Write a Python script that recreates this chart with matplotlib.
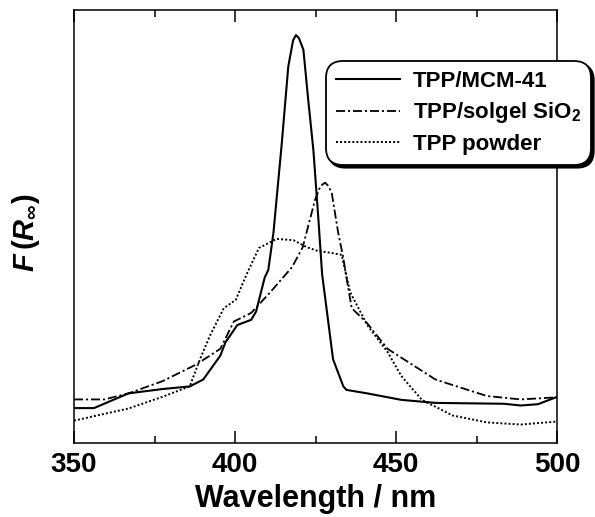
import numpy as np
import matplotlib
matplotlib.use('Agg')
import matplotlib.pyplot as plt
from matplotlib.ticker import MultipleLocator, NullLocator

plt.rcParams['font.family'] = ['Liberation Sans', 'DejaVu Sans']
plt.rcParams['font.weight'] = 'bold'
plt.rcParams['mathtext.fontset'] = 'custom'
plt.rcParams['mathtext.rm'] = 'Liberation Sans:bold'
plt.rcParams['mathtext.bf'] = 'Liberation Sans:bold'
plt.rcParams['mathtext.it'] = 'Liberation Sans:bold:italic'

# TPP/MCM-41 (solid)
wl_mcm = [350, 356.2, 366.9, 377.4, 385.9, 390.1, 395.4, 397.0, 400.7, 405.0,
          406.5, 409.2, 410.3, 411.9, 414.5, 416.5, 418.0, 418.9, 419.8, 421.2,
          422.7, 424.3, 425.8, 427.0, 430.4, 433.6, 434.6, 441.0, 451.6, 462.2,
          483.4, 488.7, 494.0, 500]
f_mcm = [0.080, 0.080, 0.114, 0.124, 0.130, 0.146, 0.201, 0.232, 0.272, 0.284,
         0.303, 0.382, 0.399, 0.485, 0.693, 0.869, 0.930, 0.942, 0.935, 0.908,
         0.792, 0.676, 0.522, 0.390, 0.193, 0.130, 0.122, 0.114, 0.099, 0.092,
         0.090, 0.086, 0.089, 0.106]

# TPP/solgel SiO2 (dash-dot)
wl_sol = [350, 359.4, 366.9, 377.4, 388.0, 395.4, 399.6, 405.0, 411.3, 417.7,
          421.0, 424.8, 426.5, 427.9, 429.0, 430.0, 432.0, 433.5, 434.6, 436.2,
          441.0, 447.3, 462.2, 478.1, 488.7, 500]
f_sol = [0.100, 0.100, 0.114, 0.142, 0.181, 0.217, 0.280, 0.300, 0.351, 0.406,
         0.452, 0.561, 0.593, 0.601, 0.593, 0.577, 0.485, 0.430, 0.380, 0.311,
         0.276, 0.217, 0.146, 0.108, 0.100, 0.105]

# TPP powder (dotted)
wl_pow = [350, 366.9, 377.4, 385.9, 389.1, 392.3, 396.5, 400.2, 403.5, 407.4,
          412.9, 418.1, 422.2, 425.3, 429.5, 433.1, 435.7, 441.0, 447.3, 451.6,
          458.0, 467.5, 478.1, 488.7, 500]
f_pow = [0.051, 0.079, 0.106, 0.130, 0.193, 0.249, 0.311, 0.330, 0.388, 0.450,
         0.471, 0.468, 0.452, 0.444, 0.439, 0.434, 0.348, 0.272, 0.210, 0.154,
         0.099, 0.063, 0.047, 0.042, 0.049]

fig = plt.figure(figsize=(5.95, 5.17), dpi=100)
ax = fig.add_axes([0.1244, 0.1437, 0.8122, 0.837])

ax.plot(wl_mcm, f_mcm, color='black', lw=1.5, ls='-', label='TPP/MCM-41')
ax.plot(wl_sol, f_sol, color='black', lw=1.3, ls=(0, (5, 1.6, 1.2, 1.6)),
        label=r'TPP/solgel SiO$_\mathrm{2}$')
ax.plot(wl_pow, f_pow, color='black', lw=1.4, ls=(0, (1, 1.1)),
        label='TPP powder')

ax.set_xlim(350, 500)
ax.set_ylim(0, 1)
ax.xaxis.set_major_locator(MultipleLocator(50))
ax.xaxis.set_minor_locator(MultipleLocator(25))
ax.yaxis.set_major_locator(NullLocator())
ax.tick_params(axis='x', which='both', direction='in', top=True, width=1.1,
               labelsize=20, pad=7)
ax.tick_params(axis='x', which='major', length=8.6)
ax.tick_params(axis='x', which='minor', length=4.8)
for spine in ax.spines.values():
    spine.set_linewidth(1.1)

ax.set_xlabel('Wavelength / nm', fontsize=22, fontweight='bold', labelpad=4)
ax.set_ylabel(r'$F\,(R_{\infty})$', fontsize=21)
ax.yaxis.set_label_coords(-0.066, 0.485)

leg = ax.legend(loc='upper right', bbox_to_anchor=(591 / 595, 1 - 61 / 517),
                bbox_transform=fig.transFigure, fontsize=16,
                handlelength=2.9, handletextpad=0.55, labelspacing=0.38,
                borderpad=0.45, borderaxespad=0, fancybox=True,
                shadow={'color': 'black', 'alpha': 1}, framealpha=1)
frame = leg.get_frame()
frame.set_edgecolor('black')
frame.set_linewidth(1.3)
frame.set_boxstyle('round', pad=0.0, rounding_size=0.75)

fig.savefig('out.png', dpi=100, facecolor='white')
